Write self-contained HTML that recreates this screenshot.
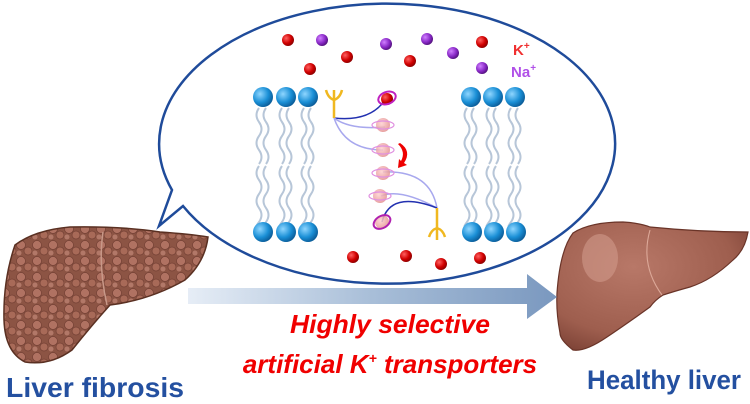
<!DOCTYPE html>
<html><head><style>
body{margin:0;width:750px;height:404px;background:#fff;overflow:hidden}
svg{display:block}
text{font-family:"Liberation Sans",sans-serif;font-weight:bold}
</style></head><body>
<svg width="750" height="404" viewBox="0 0 750 404">
<defs>
<radialGradient id="bh" cx="35%" cy="35%" r="70%"><stop offset="0" stop-color="#8fd6ff"/><stop offset=".6" stop-color="#1a8fd6"/><stop offset="1" stop-color="#0a5a96"/></radialGradient>
<radialGradient id="rd" cx="35%" cy="35%" r="70%"><stop offset="0" stop-color="#ff6060"/><stop offset=".6" stop-color="#d00000"/><stop offset="1" stop-color="#800"/></radialGradient>
<radialGradient id="pp" cx="35%" cy="35%" r="70%"><stop offset="0" stop-color="#d080ff"/><stop offset=".6" stop-color="#8a2ac8"/><stop offset="1" stop-color="#50107a"/></radialGradient>
<radialGradient id="pk" cx="40%" cy="40%" r="70%"><stop offset="0" stop-color="#ffd0d0"/><stop offset="1" stop-color="#e08a8a"/></radialGradient>
<linearGradient id="ar" x1="0" x2="1"><stop offset="0" stop-color="#e6edf6"/><stop offset=".5" stop-color="#a8bed8"/><stop offset="1" stop-color="#7a98bf"/></linearGradient>
<radialGradient id="lv" cx="40%" cy="35%" r="75%"><stop offset="0" stop-color="#b87868"/><stop offset=".7" stop-color="#9e5e4e"/><stop offset="1" stop-color="#7a4034"/></radialGradient>
<pattern id="nod" width="16" height="16" patternUnits="userSpaceOnUse"><rect width="16" height="16" fill="#8c5444"/><circle cx="5" cy="5" r="4.5" fill="#b07262" stroke="#744034" stroke-width=".7"/><circle cx="12" cy="11" r="4" fill="#a86a58" stroke="#744034" stroke-width=".7"/><circle cx="3" cy="13" r="2.5" fill="#b27868"/></pattern>
</defs>
<!-- bubble -->
<path d="M172,190 A228,140 0 1 1 183,206 L159,226 Z" fill="#fff" stroke="#1f4b9a" stroke-width="2.5" stroke-linejoin="miter"/>
<!-- lipids -->
<g fill="none" stroke="#b7c6d8" stroke-width="2">
<g id="tails">
<path d="M259,108 q-5,7 0,14 t0,14 t0,14 t0,14"/>
<path d="M266,108 q-5,7 0,14 t0,14 t0,14 t0,14"/>
<path d="M259,166 q-5,7 0,14 t0,14 t0,14 t0,14 t0,2"/>
<path d="M266,166 q-5,7 0,14 t0,14 t0,14 t0,14 t0,2"/>
</g>
<use href="#tails" x="23"/><use href="#tails" x="45"/>
<use href="#tails" x="208"/><use href="#tails" x="230"/><use href="#tails" x="252"/>
</g>
<g fill="url(#bh)">
<circle cx="263" cy="97" r="10"/><circle cx="286" cy="97" r="10"/><circle cx="308" cy="97" r="10"/>
<circle cx="263" cy="232" r="10"/><circle cx="286" cy="232" r="10"/><circle cx="308" cy="232" r="10"/>
<circle cx="471" cy="97" r="10"/><circle cx="493" cy="97" r="10"/><circle cx="515" cy="97" r="10"/>
<circle cx="472" cy="232" r="10"/><circle cx="494" cy="232" r="10"/><circle cx="516" cy="232" r="10"/>
</g>
<!-- transporters -->
<g fill="none" stroke-width="1.5">
<path d="M334,118 Q370,122 385,100" stroke="#2230b0"/>
<path d="M334,118 Q350,130 385,127" stroke="#a8a8ee"/>
<path d="M334,118 Q345,150 383,150" stroke="#a8a8ee"/>
<path d="M437,208 Q430,170 383,172" stroke="#a8a8ee"/>
<path d="M437,208 Q400,188 381,196" stroke="#a8a8ee"/>
<path d="M437,208 Q390,190 382,222" stroke="#2230b0"/>
</g>
<g stroke="#f0b820" stroke-width="2.5" fill="none">
<path d="M334,118 V90 M334,100 q-6,-2 -8,-10 M334,100 q6,-2 8,-10"/>
<path d="M437,208 V240 M437,228 q-6,2 -8,9 M437,228 q6,2 8,9"/>
</g>
<circle cx="387" cy="99" r="6" fill="url(#rd)"/><ellipse cx="387" cy="98" rx="9" ry="6" fill="none" stroke="#c020c0" stroke-width="2" transform="rotate(-20 387 98)"/>
<g fill="url(#pk)" opacity=".85"><circle cx="383" cy="125" r="7"/><circle cx="383" cy="150" r="7"/><circle cx="383" cy="173" r="7"/><circle cx="380" cy="196" r="7"/><circle cx="382" cy="222" r="7"/></g>
<g fill="none" stroke="#e090e0" stroke-width="1.2"><ellipse cx="383" cy="125" rx="11" ry="4"/><ellipse cx="383" cy="150" rx="11" ry="4"/><ellipse cx="383" cy="173" rx="11" ry="4"/><ellipse cx="380" cy="196" rx="11" ry="4"/></g>
<ellipse cx="382" cy="222" rx="9" ry="6" fill="none" stroke="#b020b0" stroke-width="2" transform="rotate(-30 382 222)"/>
<path d="M400,143 q12,8 4,20 l3,2 -9,3 1,-9 2,2 q5,-9 -3,-17z" fill="#e00"/>
<!-- ions -->
<g fill="url(#rd)"><circle cx="288" cy="40" r="6"/><circle cx="347" cy="57" r="6"/><circle cx="310" cy="69" r="6"/><circle cx="410" cy="61" r="6"/><circle cx="482" cy="42" r="6"/><circle cx="353" cy="257" r="6"/><circle cx="406" cy="256" r="6"/><circle cx="441" cy="264" r="6"/><circle cx="480" cy="258" r="6"/></g>
<g fill="url(#pp)"><circle cx="322" cy="40" r="6"/><circle cx="386" cy="44" r="6"/><circle cx="427" cy="39" r="6"/><circle cx="453" cy="53" r="6"/><circle cx="482" cy="68" r="6"/></g>
<text x="513" y="55" font-size="15" fill="#f03030">K<tspan font-size="10" dy="-6">+</tspan></text>
<text x="511" y="77" font-size="15" fill="#b050e8">Na<tspan font-size="10" dy="-6">+</tspan></text>
<!-- left liver -->
<path d="M15,245 Q35,230 70,227 Q120,226 160,232 Q190,234 208,237 Q205,262 185,280 Q150,300 110,305 Q92,325 72,350 Q50,366 25,362 Q5,352 4,320 Q3,280 15,245Z" fill="url(#nod)" stroke="#5a3022" stroke-width="1.5"/>
<path d="M103,232 Q98,265 107,305" fill="none" stroke="#c89888" stroke-width="1.5"/>
<!-- right liver -->
<path d="M557,293 Q560,250 573,233 Q590,222 623,222 Q640,223 650,227 Q700,232 748,232 Q745,250 733,260 Q712,280 690,287 Q672,292 663,295 Q655,300 650,307 Q625,325 607,337 Q585,352 573,350 Q560,340 560,333 Q556,312 557,293Z" fill="url(#lv)" stroke="#6a3428" stroke-width="1.2"/>
<path d="M650,230 Q640,265 662,295" fill="none" stroke="#dca898" stroke-width="1.1"/>
<ellipse cx="600" cy="258" rx="18" ry="24" fill="#d09a8a" opacity=".6"/>
<!-- arrow -->
<path d="M188,288 H527 V274 L557,297 L527,319 V304 H188Z" fill="url(#ar)"/>
<text x="390" y="333" font-size="26" font-style="italic" fill="#f00000" text-anchor="middle" textLength="200" lengthAdjust="spacingAndGlyphs">Highly selective</text>
<text x="390" y="373" font-size="26" font-style="italic" fill="#f00000" text-anchor="middle">artificial K<tspan font-size="14" dy="-10">+</tspan><tspan dy="10"> transporters</tspan></text>
<text x="6" y="397" font-size="28" fill="#2450a0" textLength="178" lengthAdjust="spacingAndGlyphs">Liver fibrosis</text>
<text x="587" y="389" font-size="27" fill="#2450a0" textLength="154" lengthAdjust="spacingAndGlyphs">Healthy liver</text>
</svg>
</body></html>
